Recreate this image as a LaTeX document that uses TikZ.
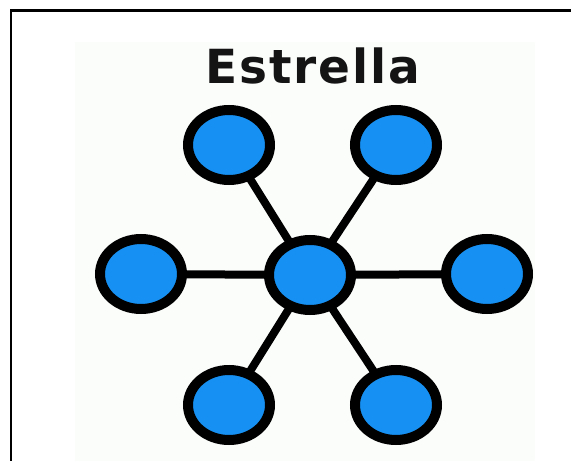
\documentclass[tikz,border=0pt]{standalone}
\usepackage{fontspec}
\newfontfamily\titlefont[LetterSpace=4]{DejaVu Sans}
\usetikzlibrary{shapes.geometric}
\definecolor{nodeblue}{RGB}{22,144,242}
\definecolor{panel}{RGB}{251,253,251}
\definecolor{ink}{RGB}{20,20,20}
\pgfdeclarelayer{backdrop}
\pgfdeclarelayer{links}
\pgfsetlayers{backdrop,links,main}
\begin{document}
\begin{tikzpicture}[x=1pt,y=-1pt,
  station/.style={ellipse, draw=black, fill=nodeblue, line width=10pt,
    minimum width=82pt, minimum height=70pt, inner sep=0pt},
  link/.style={draw=black, line width=8pt}]
  \useasboundingbox (0,0) rectangle (571,461);
  \begin{pgfonlayer}{backdrop}
    \fill[white] (0,0) rectangle (571,461);
    % pale panel behind the drawing
    \fill[panel] (75,42) rectangle (535,461);
    % frame: top and left edges
    \draw[line width=2.5pt, black] (571,10.5) -- (11,10.5) -- (11,461);
  \end{pgfonlayer}
  % title
  \node[font=\titlefont\bfseries\fontsize{47}{50}\selectfont, text=ink,
    anchor=base] (title) at (313,83) {Estrella};
  % stations
  \node[station] (c)  at (310,275) {};
  \node[station] (tl) at (229,145) {};
  \node[station] (tr) at (396,145) {};
  \node[station] (l)  at (141,274) {};
  \node[station] (r)  at (487,274) {};
  \node[station] (bl) at (229,405) {};
  \node[station] (br) at (396,405) {};
  % links from the hub, kept under the stations
  \begin{pgfonlayer}{links}
    \foreach \n in {tl,tr,l,r,bl,br}
      \path[link] (c.center) -- (\n.center);
  \end{pgfonlayer}
\end{tikzpicture}
\end{document}
